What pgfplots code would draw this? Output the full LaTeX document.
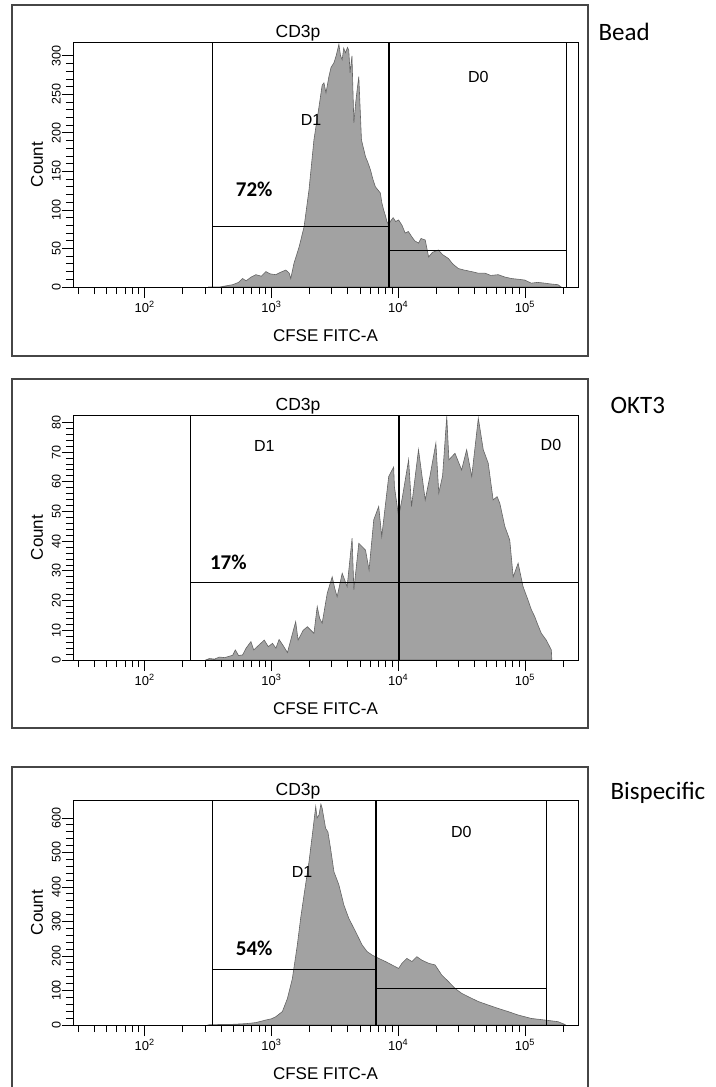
\documentclass[border=0pt]{standalone}
\usepackage{fontspec}
\setmainfont{Liberation Sans}
\newfontfamily\calibri{Carlito}
\usepackage{pgfplots}
\usepackage{pgfplotstable}
\pgfplotsset{compat=1.18}

\definecolor{histfill}{RGB}{162,162,162}
\definecolor{histline}{RGB}{100,100,100}
\definecolor{framegray}{RGB}{70,70,70}

% x in log10 units, y = count
\pgfplotstableread{
lx count
2.50 0
2.589 0
2.694 3
2.74 6
2.772 11
2.80 8
2.84 13
2.877 16
2.92 14
2.956 20
2.99 17
3.034 16
3.07 19
3.113 22
3.14 18
3.152 11
3.178 31
3.218 52
3.257 78
3.296 126
3.335 191
3.375 234
3.40 262
3.414 265
3.43 252
3.453 273
3.47 285
3.493 291
3.51 300
3.532 315
3.545 300
3.558 295
3.57 310
3.584 304
3.60 311
3.61 307
3.62 278
3.635 300
3.65 213
3.665 240
3.676 256
3.689 273
3.70 230
3.71 191
3.742 169
3.76 162
3.781 152
3.80 140
3.82 130
3.84 126
3.859 122
3.87 110
3.885 100
3.90 92
3.911 85
3.925 80
3.937 85
3.96 90
3.98 85
4.003 87
4.03 80
4.055 70
4.08 72
4.108 65
4.13 60
4.16 57
4.18 63
4.213 61
4.24 39
4.27 45
4.317 48
4.35 42
4.396 37
4.43 30
4.474 24
4.52 22
4.579 20
4.63 18
4.684 18
4.73 15
4.789 16
4.84 13
4.893 11
4.95 10
4.998 9
5.05 5
5.10 6
5.156 5
5.20 4
5.26 3
5.286 0
}\beadtab

\pgfplotstableread{
lx count
2.48 0
2.511 0.5
2.55 0.3
2.589 1
2.63 0.8
2.694 1.6
2.715 3.4
2.74 1.5
2.772 1.7
2.80 4
2.838 6.2
2.86 3.4
2.90 5
2.943 6.7
2.975 4.5
3.008 5.6
3.035 4
3.06 6.9
3.09 5
3.126 2.5
3.16 8
3.191 12.9
3.21 6.7
3.25 10
3.283 11.2
3.335 9
3.361 18
3.38 14
3.40 12.4
3.44 22.5
3.479 28
3.50 24
3.518 21.3
3.558 29.2
3.597 24.7
3.636 41
3.65 23.6
3.689 39.3
3.742 37
3.77 30.3
3.807 47.2
3.846 51.7
3.87 41.6
3.925 61.8
3.964 65
3.97 58.4
4.003 48.3
4.029 53.9
4.082 67.4
4.105 51.7
4.16 70.8
4.213 53.9
4.25 61.8
4.297 73
4.32 56.2
4.35 62
4.383 82
4.40 67.4
4.448 69.6
4.50 64
4.54 70.8
4.58 61.8
4.632 81.4
4.671 70.8
4.71 66.3
4.749 53.9
4.78 55
4.802 52.7
4.841 45
4.88 40.4
4.907 28
4.946 32.6
4.985 24.7
5.024 20.2
5.05 17
5.077 14.6
5.10 12
5.129 9
5.168 6.7
5.208 3.4
5.212 0
}\okttab

\pgfplotstableread{
lx count
2.50 0
2.511 1
2.694 2
2.80 4
2.877 7
2.956 14.5
3.00 18
3.034 24
3.086 39
3.126 77
3.165 135
3.204 232
3.23 309
3.257 377
3.296 473
3.322 550
3.349 633
3.36 600
3.375 609
3.39 640
3.40 628
3.427 570
3.445 560
3.466 512
3.493 444
3.532 406
3.571 348
3.61 309
3.663 271
3.715 232
3.754 213
3.793 203
3.846 193
3.899 184
3.951 174
4.003 164
4.03 179
4.068 193
4.108 184
4.147 198
4.186 188
4.239 179
4.291 174
4.343 145
4.396 126
4.448 106
4.50 92
4.553 82
4.632 68
4.71 58
4.789 48
4.867 39
4.946 29
5.05 19
5.156 14.5
5.26 9.7
5.313 2
5.32 0
}\bisptab

\tikzset{
  gate/.style={black, line width=0.9pt},
  thickgate/.style={black, line width=2pt},
  histo/.style={fill=histfill, draw=histline, line width=0.6pt},
  gatelbl/.style={font=\fontsize{16}{18}\selectfont, anchor=center},
  pctlbl/.style={font=\calibri\bfseries\fontsize{21}{23}\selectfont, anchor=center},
}

\pgfplotsset{
  facs/.style={
    scale only axis, width=505pt, anchor=south west,
    xmin=1.434, xmax=5.4185, ymin=0,
    xtick={2,3,4,5},
    xticklabels={10\textsuperscript{2},10\textsuperscript{3},10\textsuperscript{4},10\textsuperscript{5}},
    minor xtick={1.477,1.602,1.699,1.778,1.845,1.903,1.954,
      2.301,2.477,2.602,2.699,2.778,2.845,2.903,2.954,
      3.301,3.477,3.602,3.699,3.778,3.845,3.903,3.954,
      4.301,4.477,4.602,4.699,4.778,4.845,4.903,4.954,5.301},
    minor y tick num=4,
    tick align=outside, tick pos=left,
    major tick length=11pt, minor tick length=7pt,
    axis line style={black, line width=0.9pt},
    tick style={black, line width=0.9pt},
    axis on top, clip=false,
    scaled y ticks=false,
    /pgf/number format/assume math mode=true,
    yticklabel style={rotate=90, anchor=south, inner sep=1pt, font=\fontsize{12.5}{14}\selectfont},
    xticklabel style={font=\fontsize{13}{15}\selectfont},
    label style={font=\fontsize{17}{19}\selectfont},
    ylabel={Count}, xlabel={CFSE FITC-A},
    ylabel style={at={(axis description cs:-0.0713,0.5)}, anchor=center},
  },
}

\begin{document}
\begin{tikzpicture}
\useasboundingbox (0,0) rectangle (715pt,-1087pt);

% outer frames
\draw[framegray, line width=1.1pt] (12pt,-5pt) rectangle (588pt,-356pt);
\draw[framegray, line width=1.1pt] (12pt,-379pt) rectangle (588pt,-728pt);
\draw[framegray, line width=1.1pt] (12pt,-1090pt) -- (12pt,-767pt) -- (588pt,-767pt) -- (588pt,-1090pt);

% Bead
\begin{axis}[facs, at={(73pt,-287pt)}, height=245pt, ymax=318,
  ytick={0,50,...,300},
  xlabel style={at={(axis description cs:0.5,-0.2)}, anchor=center}]
\addplot[histo] table[x=lx, y=count] {\beadtab} \closedcycle;
\draw[gate] (axis cs:2.534,0) -- (axis cs:2.534,318);
\draw[gate] (axis cs:2.534,79) -- (axis cs:3.929,79);
\draw[thickgate] (axis cs:3.929,0) -- (axis cs:3.929,318);
\draw[gate] (axis cs:3.929,48) -- (axis cs:5.33,48);
\draw[gate] (axis cs:5.33,0) -- (axis cs:5.33,318);
\node[gatelbl] at (axis cs:3.312,217) {D1};
\node[gatelbl] at (axis cs:4.632,273) {D0};
\node[pctlbl] at (axis cs:2.864,127) {72\%};
\node[gatelbl, font=\fontsize{17.5}{19}\selectfont, anchor=south, inner sep=1pt] at (axis cs:3.21,318) {CD3p};
\end{axis}

% OKT3
\begin{axis}[facs, at={(73pt,-660pt)}, height=245pt, ymax=82.5,
  ytick={0,10,...,80},
  xlabel style={at={(axis description cs:0.5,-0.2)}, anchor=center}]
\addplot[histo] table[x=lx, y=count] {\okttab} \closedcycle;
\draw[gate] (axis cs:2.361,0) -- (axis cs:2.361,82.5);
\draw[gate] (axis cs:2.361,26) -- (axis cs:5.4185,26);
\draw[thickgate] (axis cs:4.008,0) -- (axis cs:4.008,82.5);
\node[gatelbl] at (axis cs:2.943,72) {D1};
\node[gatelbl] at (axis cs:5.205,72.4) {D0};
\node[pctlbl] at (axis cs:2.66,33) {17\%};
\node[gatelbl, font=\fontsize{17.5}{19}\selectfont, anchor=south, inner sep=1pt] at (axis cs:3.21,82.5) {CD3p};
\end{axis}

% Bispecific
\begin{axis}[facs, at={(73pt,-1025pt)}, height=225pt, ymax=652,
  ytick={0,100,...,600},
  xlabel style={at={(axis description cs:0.5,-0.218)}, anchor=center}]
\addplot[histo] table[x=lx, y=count] {\bisptab} \closedcycle;
\draw[gate] (axis cs:2.534,0) -- (axis cs:2.534,652);
\draw[gate] (axis cs:2.534,162) -- (axis cs:3.827,162);
\draw[thickgate] (axis cs:3.827,0) -- (axis cs:3.827,652);
\draw[gate] (axis cs:3.827,107) -- (axis cs:5.173,107);
\draw[gate] (axis cs:5.173,0) -- (axis cs:5.173,652);
\node[gatelbl] at (axis cs:3.241,443) {D1};
\node[gatelbl] at (axis cs:4.498,559) {D0};
\node[pctlbl] at (axis cs:2.864,223) {54\%};
\node[gatelbl, font=\fontsize{17.5}{19}\selectfont, anchor=south, inner sep=1pt] at (axis cs:3.21,652) {CD3p};
\end{axis}

% condition labels
\node[anchor=west, font=\calibri\fontsize{25}{28}\selectfont] at (595pt,-32pt) {Bead};
\node[anchor=west, font=\calibri\fontsize{25}{28}\selectfont] at (607pt,-405pt) {OKT3};
\node[anchor=west, font=\calibri\fontsize{25}{28}\selectfont] at (607pt,-793pt) {Bispecific};
\end{tikzpicture}
\end{document}
